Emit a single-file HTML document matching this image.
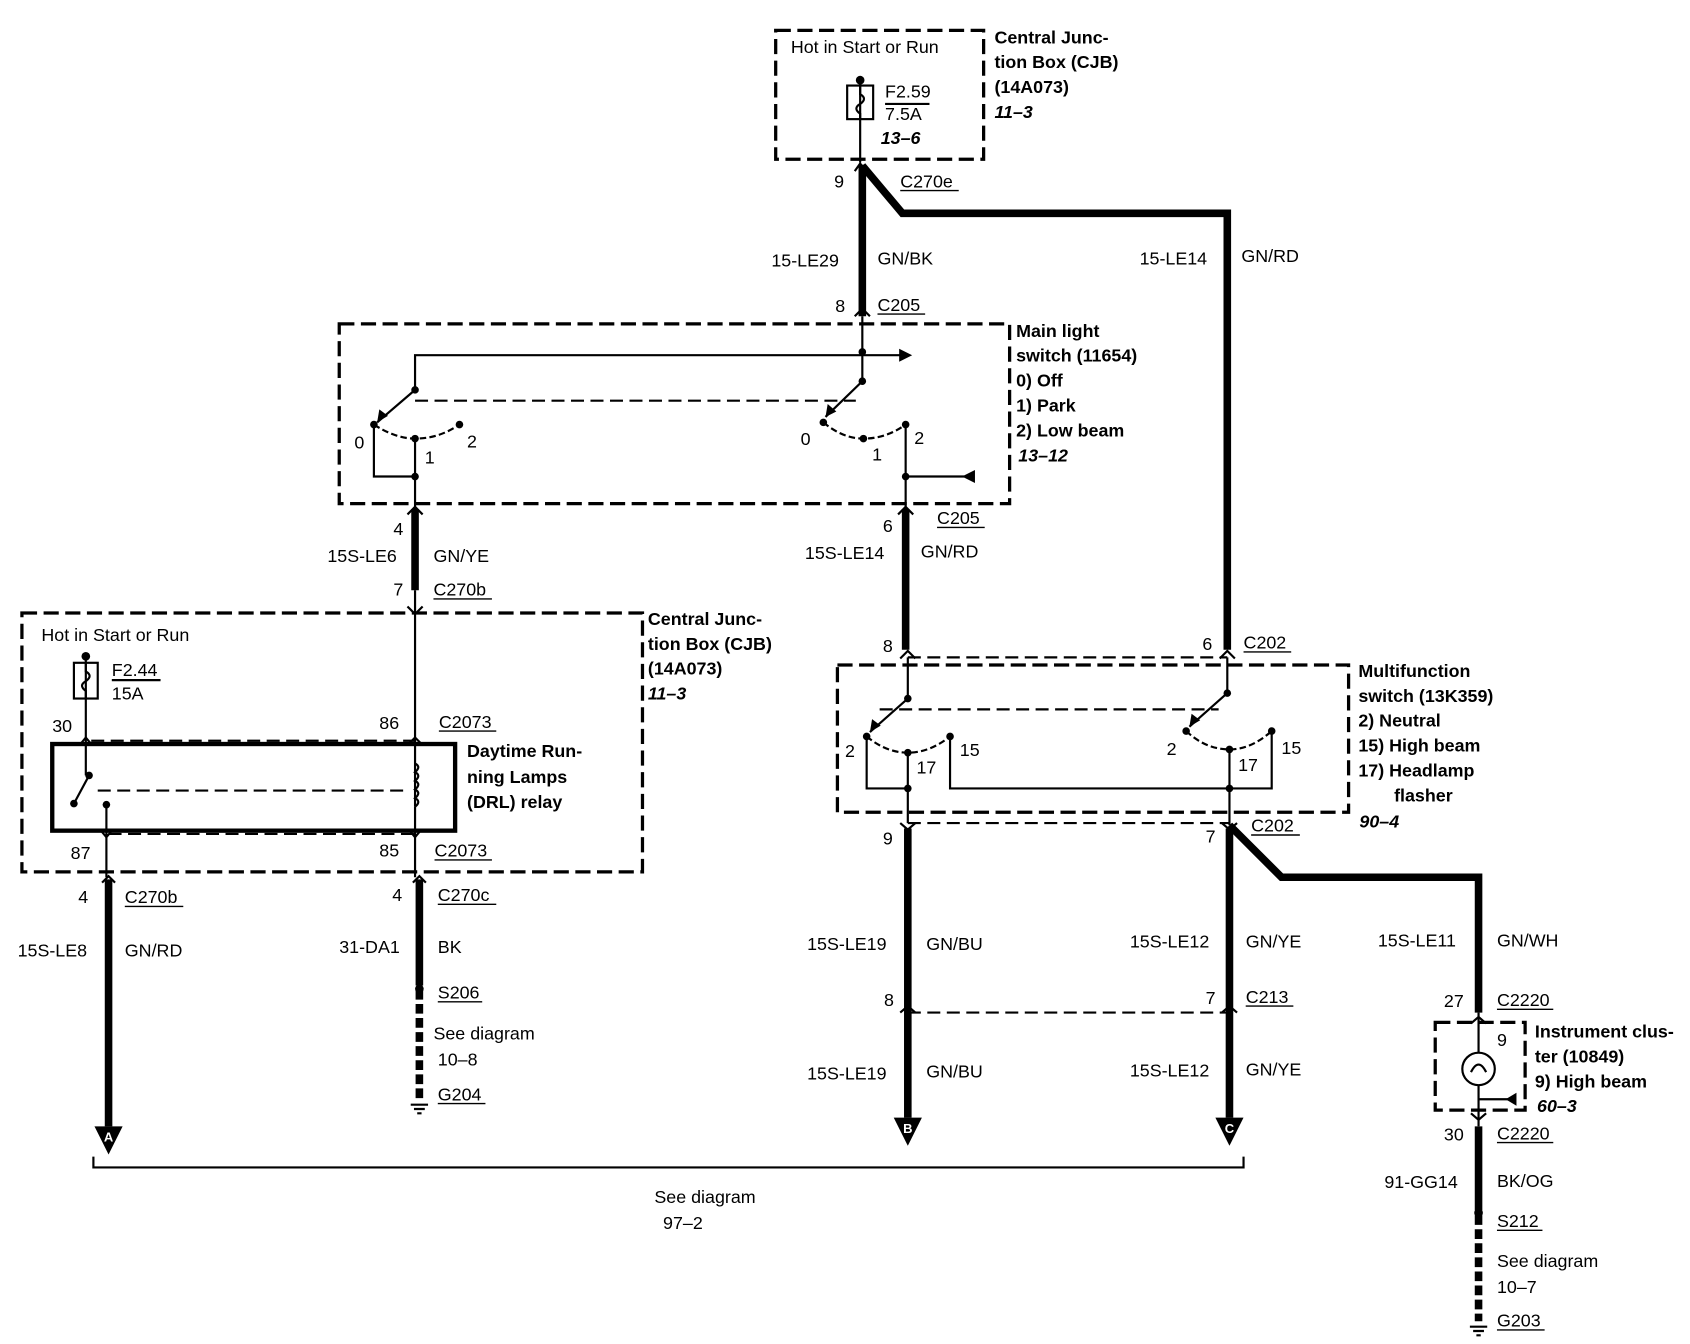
<!DOCTYPE html>
<html><head><meta charset="utf-8"><style>
html,body{margin:0;padding:0;background:#fff;}
svg{display:block;}
text{font-family:"Liberation Sans",Arial,sans-serif;font-size:16.5px;fill:#000;}
.b{font-weight:bold;}
.i{font-weight:bold;font-style:italic;}
</style></head><body>
<svg width="1690" height="1344" viewBox="0 0 1560 1241" xmlns="http://www.w3.org/2000/svg">
<g fill="none" stroke="#000">
<!-- dashed boxes -->
<g stroke-width="3" stroke-dasharray="14,6">
<rect x="716" y="28" width="192" height="119"/>
<rect x="313" y="299" width="619" height="166"/>
<rect x="20" y="566" width="573" height="239"/>
<rect x="773" y="614" width="472" height="136"/>
<rect x="1325" y="944" width="83" height="81"/>
</g>
<!-- connector dashed lines -->
<g stroke-width="2" stroke-dasharray="12,6">
<line x1="84" y1="684" x2="383" y2="684"/>
<line x1="100" y1="770" x2="383" y2="770"/>
<line x1="838" y1="607" x2="1133" y2="607"/>
<line x1="838" y1="760" x2="1135" y2="760"/>
<line x1="838" y1="935" x2="1135" y2="935"/>
<line x1="383" y1="370" x2="790" y2="370"/>
<line x1="90" y1="730" x2="378" y2="730"/>
<line x1="812" y1="655" x2="1125" y2="655"/>
</g>
<!-- thick wires -->
<g stroke-width="7">
<line x1="796" y1="152" x2="796" y2="292"/>
<polyline points="796,153 833,197 1133,197 1133,600"/>
<line x1="383" y1="470" x2="383" y2="545"/>
<line x1="836" y1="470" x2="836" y2="600"/>
<line x1="100" y1="812" x2="100" y2="1040"/>
<line x1="387" y1="812" x2="387" y2="910"/>
<line x1="838" y1="765" x2="838" y2="1032"/>
<line x1="1135" y1="765" x2="1135" y2="1032"/>
<polyline points="1135,762 1183,810 1365,810 1365,935"/>
<line x1="1365" y1="1040" x2="1365" y2="1118"/>
</g>
<g stroke-width="7" stroke-dasharray="9,4">
<line x1="387" y1="914" x2="387" y2="1015"/>
<line x1="1365" y1="1122" x2="1365" y2="1220"/>
</g>
<!-- thin wires -->
<g stroke-width="2">
<line x1="794" y1="75" x2="794" y2="150"/>
<line x1="796" y1="292" x2="796" y2="352"/>
<polyline points="383,360 383,328 832,328"/>
<line x1="383" y1="405" x2="383" y2="470"/>
<polyline points="345,392 345,440 383,440"/>
<polyline points="836,392 836,470"/>
<line x1="836" y1="440" x2="890" y2="440"/>
<line x1="383" y1="545" x2="383" y2="745"/>
<line x1="383" y1="745" x2="383" y2="810"/>
<line x1="79" y1="606" x2="79" y2="716"/>
<line x1="98" y1="743" x2="98" y2="810"/>
<line x1="838" y1="607" x2="838" y2="645"/>
<line x1="838" y1="695" x2="838" y2="760"/>
<polyline points="800,680 800,728 838,728"/>
<polyline points="877,680 877,728 1135,728"/>
<line x1="1133" y1="607" x2="1133" y2="640"/>
<line x1="1135" y1="692" x2="1135" y2="762"/>
<polyline points="1174,675 1174,728 1135,728"/>
<line x1="1365" y1="935" x2="1365" y2="972"/>
<line x1="1365" y1="1002" x2="1365" y2="1040"/>
<line x1="1365" y1="1015" x2="1392" y2="1015"/>
<!-- levers -->
<line x1="383" y1="360" x2="348" y2="390"/>
<line x1="796" y1="352" x2="762" y2="385"/>
<line x1="838" y1="645" x2="803" y2="676"/>
<line x1="1133" y1="640" x2="1098" y2="671"/>
<line x1="82" y1="716" x2="68" y2="742"/>
<!-- bracket -->
<polyline points="86,1068 86,1078 1148,1078 1148,1068"/>
</g>
<!-- switch arcs -->
<g stroke-width="2" stroke-dasharray="6,3">
<path d="M345,392 Q365,405 383,405 Q405,405 424,392"/>
<path d="M760,390 Q778,405 797,405 Q818,405 836,392"/>
<path d="M800,680 Q818,695 838,695 Q858,695 877,680"/>
<path d="M1095,675 Q1113,692 1135,692 Q1155,692 1174,675"/>
</g>
<!-- fuses -->
<g stroke-width="2">
<rect x="782" y="79" width="24" height="31"/>
<path d="M794,79 v8 q7,4 0,9 q-7,4 0,9 v5"/>
<rect x="68" y="612" width="22" height="33"/>
<path d="M79,612 v8 q7,4 0,9 q-7,4 0,9 v7"/>
<line x1="817" y1="96" x2="858" y2="96"/>
<line x1="103" y1="628" x2="148" y2="628"/>
<!-- coil -->
<path d="M383,705 q6,3 0,8 q6,3 0,8 q6,3 0,8 q6,3 0,8 q6,3 0,8"/>
<!-- bulb -->
<circle cx="1365" cy="987" r="15"/>
<path d="M1358,990 q7,-14 14,0"/>
</g>
<rect x="48" y="687" width="372" height="80" stroke-width="4"/>
</g>
<!-- dots -->
<g fill="#000">
<circle cx="794" cy="74" r="4"/><circle cx="79" cy="606" r="4"/>
<circle cx="796" cy="325" r="3.5"/><circle cx="796" cy="352" r="3.5"/><circle cx="383" cy="360" r="3.5"/>
<circle cx="345" cy="392" r="3.5"/><circle cx="383" cy="405" r="3.5"/><circle cx="424" cy="392" r="3.5"/><circle cx="383" cy="440" r="3.5"/>
<circle cx="760" cy="390" r="3.5"/><circle cx="797" cy="405" r="3.5"/><circle cx="836" cy="392" r="3.5"/><circle cx="836" cy="440" r="3.5"/>
<circle cx="838" cy="645" r="3.5"/><circle cx="800" cy="680" r="3.5"/><circle cx="838" cy="695" r="3.5"/><circle cx="877" cy="680" r="3.5"/><circle cx="838" cy="728" r="3.5"/>
<circle cx="1133" cy="640" r="3.5"/><circle cx="1095" cy="675" r="3.5"/><circle cx="1135" cy="692" r="3.5"/><circle cx="1174" cy="675" r="3.5"/><circle cx="1135" cy="728" r="3.5"/>
<circle cx="82" cy="716" r="3.5"/><circle cx="68" cy="742" r="3.5"/><circle cx="98" cy="743" r="3.5"/>
<circle cx="387" cy="913" r="4"/><circle cx="1365" cy="1120" r="4"/>
<!-- arrowheads -->
<polygon points="842,328 830,322 830,334"/>
<polygon points="348,390 350,378 358,384"/>
<polygon points="762,385 764,373 772,380"/>
<polygon points="803,676 805,664 813,670"/>
<polygon points="1098,671 1100,659 1108,665"/>
<polygon points="888,440 900,434 900,446"/>
<polygon points="1390,1015 1400,1009 1400,1021"/>
<!-- A B C arrows -->
<polygon points="87,1040 113,1040 100,1066"/>
<polygon points="825,1032 851,1032 838,1058"/>
<polygon points="1122,1032 1148,1032 1135,1058"/>
</g>
<g font-family="Liberation Sans" font-size="13" font-weight="bold" fill="#fff" text-anchor="middle">
<text x="100" y="1054" style="fill:#fff;font-size:12px;font-weight:bold">A</text>
<text x="838" y="1046" style="fill:#fff;font-size:12px;font-weight:bold">B</text>
<text x="1135" y="1046" style="fill:#fff;font-size:12px;font-weight:bold">C</text>
</g>
<!-- connector chevrons -->
<g fill="none" stroke="#000" stroke-width="2">
<path d="M789,158 l5,-7 l5,7"/><path d="M789,292 l7,-7 l7,7"/>
<path d="M376,475 l7,-7 l7,7"/><path d="M376,560 l7,7 l7,-7"/><path d="M829,475 l7,-7 l7,7"/>
<path d="M74,687 l5,-6 l5,6"/><path d="M377,687 l6,-6 l6,6"/>
<path d="M93,767 l5,6 l5,-6"/><path d="M378,767 l5,6 l5,-6"/>
<path d="M94,815 l6,-6 l6,6"/><path d="M381,815 l6,-6 l6,6"/>
<path d="M831,608 l7,-7 l7,7"/><path d="M1126,608 l7,-7 l7,7"/>
<path d="M831,760 l7,6 l7,-6"/><path d="M1128,760 l7,6 l7,-6"/>
<path d="M831,935 l7,-6 l7,6"/><path d="M1128,935 l7,-6 l7,6"/>
<path d="M1358,945 l7,-6 l7,6"/><path d="M1358,1028 l7,6 l7,-6"/>
<!-- grounds -->
<path d="M379,1020 h16 M382,1024 h10 M385,1028 h4"/>
<path d="M1357,1225 h16 M1360,1229 h10 M1363,1233 h4"/>
</g>
<!-- underlines -->
<g stroke="#000" stroke-width="1.3">
<line x1="831" y1="176" x2="885" y2="176"/><line x1="810" y1="290" x2="854" y2="290"/>
<line x1="865" y1="487" x2="909" y2="487"/><line x1="400" y1="553" x2="454" y2="553"/>
<line x1="405" y1="675" x2="458" y2="675"/><line x1="401" y1="794" x2="454" y2="794"/>
<line x1="115" y1="837" x2="169" y2="837"/><line x1="404" y1="835" x2="458" y2="835"/>
<line x1="404" y1="925" x2="445" y2="925"/><line x1="404" y1="1019" x2="448" y2="1019"/>
<line x1="1148" y1="602" x2="1192" y2="602"/><line x1="1155" y1="771" x2="1200" y2="771"/>
<line x1="1150" y1="929" x2="1194" y2="929"/><line x1="1382" y1="932" x2="1434" y2="932"/>
<line x1="1382" y1="1055" x2="1434" y2="1055"/><line x1="1382" y1="1136" x2="1424" y2="1136"/>
<line x1="1382" y1="1228" x2="1426" y2="1228"/>
</g>
<!-- text -->
<text x="730" y="49">Hot in Start or Run</text>
<text x="817" y="90">F2.59</text><text x="817" y="111">7.5A</text><text x="813" y="133" class="i">13–6</text>
<text x="918" y="40" class="b">Central Junc-</text><text x="918" y="63" class="b">tion Box (CJB)</text><text x="918" y="86" class="b">(14A073)</text><text x="918" y="109" class="i">11–3</text>
<text x="770" y="173">9</text><text x="831" y="173">C270e</text>
<text x="712" y="246">15-LE29</text><text x="810" y="244">GN/BK</text>
<text x="1052" y="244">15-LE14</text><text x="1146" y="242">GN/RD</text>
<text x="771" y="288">8</text><text x="810" y="287">C205</text>
<text x="938" y="311" class="b">Main light</text><text x="938" y="334" class="b">switch (11654)</text>
<text x="938" y="357" class="b">0)   Off</text><text x="938" y="380" class="b">1)   Park</text><text x="938" y="403" class="b">2)   Low beam</text><text x="940" y="426" class="i">13–12</text>
<text x="327" y="414">0</text><text x="392" y="428">1</text><text x="431" y="413">2</text>
<text x="739" y="411">0</text><text x="805" y="425">1</text><text x="844" y="410">2</text>
<text x="363" y="494">4</text><text x="302" y="519">15S-LE6</text><text x="400" y="519">GN/YE</text>
<text x="363" y="550">7</text><text x="400" y="550">C270b</text>
<text x="815" y="491">6</text><text x="865" y="484">C205</text>
<text x="743" y="516">15S-LE14</text><text x="850" y="515">GN/RD</text>
<text x="598" y="577" class="b">Central Junc-</text><text x="598" y="600" class="b">tion Box (CJB)</text><text x="598" y="623" class="b">(14A073)</text><text x="598" y="646" class="i">11–3</text>
<text x="38" y="592">Hot in Start or Run</text>
<text x="103" y="624">F2.44</text><text x="103" y="646">15A</text>
<text x="48" y="676">30</text><text x="350" y="673">86</text><text x="405" y="672">C2073</text>
<text x="431" y="699" class="b">Daytime Run-</text><text x="431" y="723" class="b">ning Lamps</text><text x="431" y="746" class="b">(DRL) relay</text>
<text x="65" y="793">87</text><text x="350" y="791">85</text><text x="401" y="791">C2073</text>
<text x="72" y="834">4</text><text x="115" y="834">C270b</text><text x="362" y="832">4</text><text x="404" y="832">C270c</text>
<text x="16" y="883">15S-LE8</text><text x="115" y="883">GN/RD</text>
<text x="313" y="880">31-DA1</text><text x="404" y="880">BK</text>
<text x="404" y="922">S206</text><text x="400" y="960">See diagram</text><text x="404" y="984">10–8</text><text x="404" y="1016">G204</text>
<text x="815" y="602">8</text><text x="1110" y="600">6</text><text x="1148" y="599">C202</text>
<text x="1254" y="625" class="b">Multifunction</text><text x="1254" y="648" class="b">switch (13K359)</text>
<text x="1254" y="671" class="b">2)    Neutral</text><text x="1254" y="694" class="b">15)  High beam</text><text x="1254" y="717" class="b">17)  Headlamp</text><text x="1287" y="740" class="b">flasher</text><text x="1255" y="764" class="i">90–4</text>
<text x="780" y="699">2</text><text x="846" y="714">17</text><text x="886" y="698">15</text>
<text x="1077" y="697">2</text><text x="1143" y="712">17</text><text x="1183" y="696">15</text>
<text x="815" y="780">9</text><text x="1113" y="778">7</text><text x="1155" y="768">C202</text>
<text x="745" y="877">15S-LE19</text><text x="855" y="877">GN/BU</text>
<text x="1043" y="875">15S-LE12</text><text x="1150" y="875">GN/YE</text>
<text x="1272" y="874">15S-LE11</text><text x="1382" y="874">GN/WH</text>
<text x="816" y="929">8</text><text x="1113" y="927">7</text><text x="1150" y="926">C213</text>
<text x="1333" y="930">27</text><text x="1382" y="929">C2220</text>
<text x="745" y="997">15S-LE19</text><text x="855" y="995">GN/BU</text>
<text x="1043" y="994">15S-LE12</text><text x="1150" y="993">GN/YE</text>
<text x="1382" y="966">9</text>
<text x="1417" y="958" class="b">Instrument clus-</text><text x="1417" y="981" class="b">ter (10849)</text><text x="1417" y="1004" class="b">9)    High beam</text><text x="1419" y="1027" class="i">60–3</text>
<text x="1333" y="1053">30</text><text x="1382" y="1052">C2220</text>
<text x="1278" y="1097">91-GG14</text><text x="1382" y="1096">BK/OG</text>
<text x="1382" y="1133">S212</text><text x="1382" y="1170">See diagram</text><text x="1382" y="1194">10–7</text><text x="1382" y="1225">G203</text>
<text x="604" y="1111">See diagram</text><text x="612" y="1135">97–2</text>
</svg>
</body></html>
